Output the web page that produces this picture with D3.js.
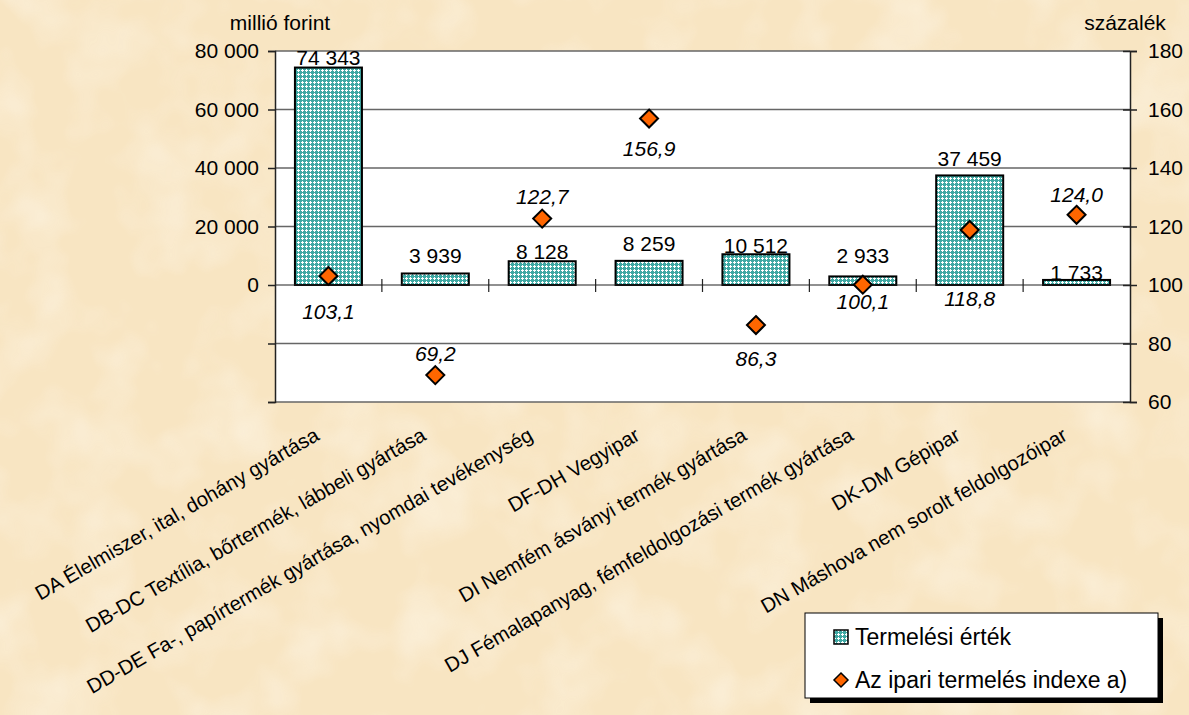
<!DOCTYPE html>
<html><head><meta charset="utf-8">
<script src="https://cdn.jsdelivr.net/npm/d3@7/dist/d3.min.js"></script>
<style>
body{margin:0;background:#f9e7c5;}
text{font-family:"Liberation Sans",Arial,sans-serif;fill:#000;}
</style>
</head><body>
<svg id="c" width="1189" height="715"></svg>
<script>
const categories = [
  "DA Élelmiszer, ital, dohány gyártása",
  "DB-DC Textília, bőrtermék, lábbeli gyártása",
  "DD-DE Fa-, papírtermék gyártása, nyomdai tevékenység",
  "DF-DH Vegyipar",
  "DI Nemfém ásványi termék gyártása",
  "DJ Fémalapanyag, fémfeldolgozási termék gyártása",
  "DK-DM Gépipar",
  "DN Máshova nem sorolt feldolgozóipar"
];
const values = [74343, 3939, 8128, 8259, 10512, 2933, 37459, 1733];
const indexValues = [103.1, 69.2, 122.7, 156.9, 86.3, 100.1, 118.8, 124.0];
const valueLabels = ["74 343", "3 939", "8 128", "8 259", "10 512", "2 933", "37 459", "1 733"];
const indexLabels = ["103,1", "69,2", "122,7", "156,9", "86,3", "100,1", "118,8", "124,0"];
const leftTicks = [-40000, -20000, 0, 20000, 40000, 60000, 80000];
const leftTickLabels = ["", "", "0", "20 000", "40 000", "60 000", "80 000"];
const rightTicks = [60, 80, 100, 120, 140, 160, 180];
const seriesNames = ["Termelési érték", "Az ipari termelés indexe a)"];
const leftTitle = "millió forint";
const rightTitle = "százalék";

// label placement offsets (layout only)
const valueLabelDy = [-10, -18, -9.5, -17, -9, -21, -17, -7];
const indexLabelDy = [36, -22, -22, 30, 33, 17, 68, -20];

const svg = d3.select("#c");
const W = 1189, H = 715;
const L = 275, R = 1130, T = 51, B = 402;
const FS = 21;

const defs = svg.append("defs");
const pat = defs.append("pattern").attr("id", "teal").attr("patternUnits", "userSpaceOnUse")
  .attr("width", 4).attr("height", 4);
pat.append("rect").attr("width", 4).attr("height", 4).attr("fill", "#3fa8a3");
pat.append("rect").attr("x", 2).attr("y", 1).attr("width", 1).attr("height", 3).attr("fill", "#fff");
pat.append("rect").attr("x", 1).attr("y", 2).attr("width", 3).attr("height", 1).attr("fill", "#fff");

const f = defs.append("filter").attr("id", "parch").attr("x", 0).attr("y", 0).attr("width", 1).attr("height", 1);
f.append("feTurbulence").attr("type", "fractalNoise").attr("baseFrequency", "0.015").attr("numOctaves", 3).attr("seed", 7);
f.append("feColorMatrix").attr("type", "matrix").attr("values", "0 0 0 0 1  0 0 0 0 0.98  0 0 0 0 0.93  0 0 0 1.4 -0.6");

// background
svg.append("rect").attr("width", W).attr("height", H).attr("fill", "#f8e5c2");
svg.append("rect").attr("width", W).attr("height", H).attr("filter", "url(#parch)").attr("opacity", 0.6);

const x = d3.scaleBand().domain(categories).range([L, R]).paddingInner(0.373).paddingOuter(0.1865);
const yL = d3.scaleLinear().domain([-40000, 80000]).range([B, T]);
const yR = d3.scaleLinear().domain([60, 180]).range([B, T]);
const step = x.step();

// plot area
svg.append("rect").attr("x", L).attr("y", T).attr("width", R - L).attr("height", B - T).attr("fill", "#fff");

// gridlines
svg.append("g").selectAll("line").data(leftTicks.filter(d => d !== 0)).join("line")
  .attr("x1", L).attr("x2", R).attr("y1", d => yL(d)).attr("y2", d => yL(d))
  .attr("stroke", "#666").attr("stroke-width", 1.5);

// bars
svg.append("g").selectAll("rect").data(values).join("rect")
  .attr("x", (d, i) => x(categories[i]))
  .attr("width", x.bandwidth())
  .attr("y", d => yL(d))
  .attr("height", d => yL(0) - yL(d))
  .attr("fill", "url(#teal)").attr("stroke", "#000").attr("stroke-width", 2);

// category axis at zero
const y0 = yL(0);
svg.append("line").attr("x1", L).attr("x2", R).attr("y1", y0).attr("y2", y0).attr("stroke", "#222").attr("stroke-width", 1.2);
svg.append("g").selectAll("line").data(categories.slice(1)).join("line")
  .attr("x1", d => x(d) - (step - x.bandwidth()) / 2).attr("x2", d => x(d) - (step - x.bandwidth()) / 2)
  .attr("y1", y0 - 6).attr("y2", y0 + 7).attr("stroke", "#222").attr("stroke-width", 1.2);

// left axis
const gl = svg.append("g").attr("transform", `translate(${L},0)`)
  .call(d3.axisLeft(yL).tickValues(leftTicks).tickSize(7).tickPadding(9).tickFormat((d, i) => leftTickLabels[i]));
gl.select(".domain").attr("stroke", "#222").attr("stroke-width", 1.5);
gl.selectAll(".tick line").attr("stroke", "#222").attr("stroke-width", 1.5);
gl.selectAll("text").style("font-size", FS + "px").attr("font-family", null);

// right axis
const gr = svg.append("g").attr("transform", `translate(${R},0)`)
  .call(d3.axisRight(yR).tickValues(rightTicks).tickSize(7).tickPadding(11));
gr.select(".domain").attr("stroke", "#222").attr("stroke-width", 1.5);
gr.selectAll(".tick line").attr("x1", -7).attr("stroke", "#222").attr("stroke-width", 1.5);
gr.selectAll("text").style("font-size", FS + "px").attr("font-family", null);

// axis titles
svg.append("text").attr("x", 280).attr("y", 30).attr("text-anchor", "middle").style("font-size", FS + "px").text(leftTitle);
svg.append("text").attr("x", 1125).attr("y", 30).attr("text-anchor", "middle").style("font-size", FS + "px").text(rightTitle);

// value labels
svg.append("g").selectAll("text").data(values).join("text")
  .attr("x", (d, i) => x(categories[i]) + x.bandwidth() / 2)
  .attr("y", (d, i) => yL(d) + valueLabelDy[i])
  .attr("dy", "0.36em").attr("text-anchor", "middle").style("font-size", FS + "px")
  .text((d, i) => valueLabels[i]);

// markers
const diamond = r => `M0,${-r}L${r},0L0,${r}L${-r},0Z`;
svg.append("g").selectAll("path").data(indexValues).join("path")
  .attr("transform", (d, i) => `translate(${x(categories[i]) + x.bandwidth() / 2},${yR(d)})`)
  .attr("d", diamond(9)).attr("fill", "#ff6600").attr("stroke", "#000").attr("stroke-width", 2);

// index labels
svg.append("g").selectAll("text").data(indexValues).join("text")
  .attr("x", (d, i) => x(categories[i]) + x.bandwidth() / 2)
  .attr("y", (d, i) => yR(d) + indexLabelDy[i])
  .attr("dy", "0.36em").attr("text-anchor", "middle").style("font-size", FS + "px").style("font-style", "italic")
  .text((d, i) => indexLabels[i]);

// category labels
svg.append("g").selectAll("text").data(categories).join("text")
  .attr("transform", d => `translate(${x(d) + x.bandwidth() / 2 - 8},439) rotate(-30)`)
  .attr("text-anchor", "end").style("font-size", "20.3px")
  .text(d => d);

// legend
const lx = 805, ly = 613, lw = 353, lh = 85;
svg.append("rect").attr("x", lx + 5).attr("y", ly + 5).attr("width", lw).attr("height", lh).attr("fill", "#000");
svg.append("rect").attr("x", lx).attr("y", ly).attr("width", lw).attr("height", lh).attr("fill", "#fff").attr("stroke", "#000").attr("stroke-width", 1);
svg.append("rect").attr("x", 834).attr("y", 630).attr("width", 14).attr("height", 14)
  .attr("fill", "url(#teal)").attr("stroke", "#000").attr("stroke-width", 1.5);
svg.append("path").attr("transform", "translate(841,680)").attr("d", diamond(7))
  .attr("fill", "#ff6600").attr("stroke", "#000").attr("stroke-width", 1.5);
svg.append("text").attr("x", 855).attr("y", 645).style("font-size", "23px").text(seriesNames[0]);
svg.append("text").attr("x", 855).attr("y", 688).style("font-size", "23px").text(seriesNames[1]);
</script>
</body></html>
